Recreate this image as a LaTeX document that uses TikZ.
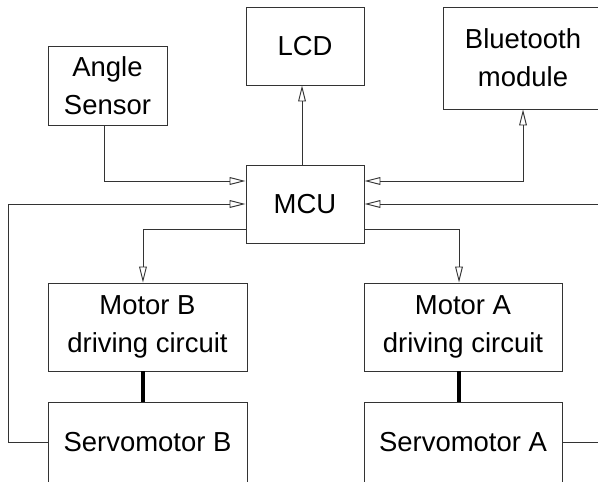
\documentclass[tikz,border=0pt]{standalone}
\usepackage{fontspec}
\setmainfont{Liberation Sans}
\usepackage{tikz}
\usetikzlibrary{arrows.meta,positioning}

\begin{document}
\begin{tikzpicture}[
  x=0.75pt,y=-0.75pt,
  box/.style={rectangle,draw=black!80,line width=0.7pt,align=center,inner sep=0pt,
    font=\fontsize{20.6}{28.7}\selectfont},
  arr/.style={-{Triangle[open,length=12pt,width=5.8pt]},draw=black!80,line width=0.7pt},
  link/.style={draw=black,line width=2.7pt}
]
\useasboundingbox (0,0) rectangle (598,481);
\clip (0,0) rectangle (598,481);

\node[box,minimum width=89.25pt,minimum height=59.25pt] (angle) at (107.5,85.5) {Angle\\Sensor};
\node[box,minimum width=88.5pt,minimum height=58.5pt] (lcd) at (305,46) {LCD};
\node[box,minimum width=120pt,minimum height=76.5pt] (bt) at (523,58) {Bluetooth\\module};
\node[box,minimum width=88.5pt,minimum height=58.5pt] (mcu) at (305,204) {MCU};
\node[box,minimum width=149.25pt,minimum height=66pt] (motorB) at (147.5,327) {Motor B\\driving circuit};
\node[box,minimum width=148.5pt,minimum height=66pt] (motorA) at (463,327) {Motor A\\driving circuit};
\node[box,minimum width=149.25pt,minimum height=60pt] (servoB) at (147.5,442) {Servomotor B};
\node[box,minimum width=148.5pt,minimum height=60pt] (servoA) at (463,442) {Servomotor A};
\coordinate (leftbus) at (8,204);
\coordinate (rightbus) at (604,204);

\draw[arr] ([xshift=-2.5pt]angle.south) |- ([yshift=17.25pt]mcu.west);
\draw[arr] (servoB.west) -| (leftbus) -- (mcu.west);
\draw[arr] ([xshift=-2.25pt]mcu.north) -- ([xshift=-2.25pt]lcd.south);
\draw[arr,{Triangle[open,length=12pt,width=5.8pt]}-{Triangle[open,length=12pt,width=5.8pt]}] ([yshift=17.25pt]mcu.east) -| (bt.south);
\draw[arr] (servoA.east) -| (rightbus) -- (mcu.east);
\draw[arr] ([yshift=-18.75pt]mcu.west) -| ([xshift=-3.4pt]motorB.north);
\draw[arr] ([yshift=-18.75pt]mcu.east) -| ([xshift=-3pt]motorA.north);
\draw[link] ([xshift=-3.4pt]motorB.south) -- ([xshift=-3.4pt]servoB.north);
\draw[link] ([xshift=-3pt]motorA.south) -- ([xshift=-3pt]servoA.north);
\end{tikzpicture}
\end{document}
